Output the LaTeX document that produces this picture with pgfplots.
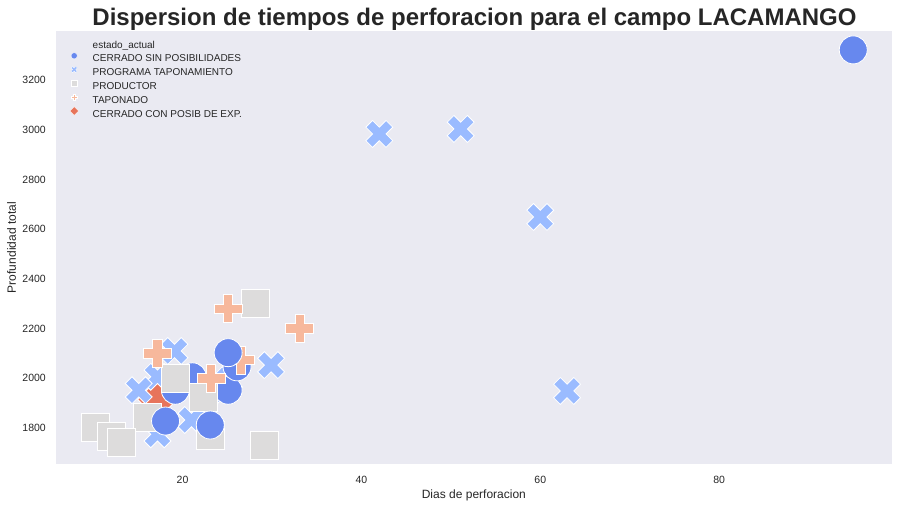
\documentclass[border=0pt]{standalone}
\usepackage{fontspec}
\setmainfont{Liberation Sans}
\usepackage{pgfplots}
\pgfplotsset{compat=1.18}
\definecolor{cA}{HTML}{6788EE}
\definecolor{cB}{HTML}{9ABBFF}
\definecolor{cC}{HTML}{DDDCDC}
\definecolor{cD}{HTML}{F7B89C}
\definecolor{cE}{HTML}{E7745B}
\definecolor{bgc}{HTML}{EAEAF2}
\definecolor{txt}{HTML}{262626}

\pgfdeclareplotmark{Pfill}{%
 \pgfpathmoveto{\pgfqpoint{0.3333\pgfplotmarksize}{\pgfplotmarksize}}%
 \pgfpathlineto{\pgfqpoint{0.3333\pgfplotmarksize}{0.3333\pgfplotmarksize}}%
 \pgfpathlineto{\pgfqpoint{\pgfplotmarksize}{0.3333\pgfplotmarksize}}%
 \pgfpathlineto{\pgfqpoint{\pgfplotmarksize}{-0.3333\pgfplotmarksize}}%
 \pgfpathlineto{\pgfqpoint{0.3333\pgfplotmarksize}{-0.3333\pgfplotmarksize}}%
 \pgfpathlineto{\pgfqpoint{0.3333\pgfplotmarksize}{-\pgfplotmarksize}}%
 \pgfpathlineto{\pgfqpoint{-0.3333\pgfplotmarksize}{-\pgfplotmarksize}}%
 \pgfpathlineto{\pgfqpoint{-0.3333\pgfplotmarksize}{-0.3333\pgfplotmarksize}}%
 \pgfpathlineto{\pgfqpoint{-\pgfplotmarksize}{-0.3333\pgfplotmarksize}}%
 \pgfpathlineto{\pgfqpoint{-\pgfplotmarksize}{0.3333\pgfplotmarksize}}%
 \pgfpathlineto{\pgfqpoint{-0.3333\pgfplotmarksize}{0.3333\pgfplotmarksize}}%
 \pgfpathlineto{\pgfqpoint{-0.3333\pgfplotmarksize}{\pgfplotmarksize}}%
 \pgfpathclose
 \pgfusepathqfillstroke}
\pgfdeclareplotmark{Xfill}{%
 \pgfpathmoveto{\pgfqpoint{-0.4714\pgfplotmarksize}{0.9428\pgfplotmarksize}}%
 \pgfpathlineto{\pgfqpoint{0pt}{0.4714\pgfplotmarksize}}%
 \pgfpathlineto{\pgfqpoint{0.4714\pgfplotmarksize}{0.9428\pgfplotmarksize}}%
 \pgfpathlineto{\pgfqpoint{0.9428\pgfplotmarksize}{0.4714\pgfplotmarksize}}%
 \pgfpathlineto{\pgfqpoint{0.4714\pgfplotmarksize}{0pt}}%
 \pgfpathlineto{\pgfqpoint{0.9428\pgfplotmarksize}{-0.4714\pgfplotmarksize}}%
 \pgfpathlineto{\pgfqpoint{0.4714\pgfplotmarksize}{-0.9428\pgfplotmarksize}}%
 \pgfpathlineto{\pgfqpoint{0pt}{-0.4714\pgfplotmarksize}}%
 \pgfpathlineto{\pgfqpoint{-0.4714\pgfplotmarksize}{-0.9428\pgfplotmarksize}}%
 \pgfpathlineto{\pgfqpoint{-0.9428\pgfplotmarksize}{-0.4714\pgfplotmarksize}}%
 \pgfpathlineto{\pgfqpoint{-0.4714\pgfplotmarksize}{0pt}}%
 \pgfpathlineto{\pgfqpoint{-0.9428\pgfplotmarksize}{0.4714\pgfplotmarksize}}%
 \pgfpathclose
 \pgfusepathqfillstroke}
\pgfdeclareplotmark{Dfill}{%
 \pgfpathmoveto{\pgfqpoint{0pt}{\pgfplotmarksize}}%
 \pgfpathlineto{\pgfqpoint{\pgfplotmarksize}{0pt}}%
 \pgfpathlineto{\pgfqpoint{0pt}{-\pgfplotmarksize}}%
 \pgfpathlineto{\pgfqpoint{-\pgfplotmarksize}{0pt}}%
 \pgfpathclose
 \pgfusepathqfillstroke}

\pgfplotsset{
 legmark/.style={only marks, legend image code/.code={\path (-5pt,0pt) (18.3pt,0pt); \draw[##1, overlay] plot coordinates {(0pt,3.6pt)};}},
 pts/.style={only marks, forget plot},
}

\pgfplotstableread{
x y
21.1 2006
19.2 1952
25.1 1952
26.1 2046
}\circA
\pgfplotstableread{
x y
25.1 2103
18.1 1828
23.1 1812
95.0 3321
}\circB
\pgfplotstableread{
x y
42.0 2983
51.1 3003
60.0 2649
63.0 1949
29.9 2053
19.1 2110
17.2 2006
15.1 1952
25.2 1992
21.0 1832
17.2 1775
22.8 1940
}\xs
\pgfplotstableread{
x y
28.2 2300
19.2 1999
16.1 1843
10.2 1803
12.1 1765
13.2 1742
29.2 1729
23.1 1772
22.3 1925
}\sqs
\pgfplotstableread{
x y
25.1 2280
33.1 2200
17.2 2100
23.2 1999
26.5 2073
}\pls
\pgfplotstableread{
x y
17.2 1915
}\dms

\begin{document}
\begin{tikzpicture}[x=1pt,y=1pt]
\useasboundingbox (0,0) rectangle (899,506);
\begin{axis}[
 at={(56pt,41.7pt)}, anchor=south west,
 width=835.7pt, height=433.3pt, scale only axis,
 xmin=5.85, xmax=99.3, ymin=1654, ymax=3397,
 axis background/.style={fill=bgc},
 axis line style={draw=none},
 major tick length=0pt,
 xtick={20,40,60,80}, ytick={1800,2000,...,3200},
 tick label style={font=\fontsize{10.5}{12}\selectfont, text=txt, inner sep=0pt},
 /pgf/number format/assume math mode=true,
 /pgf/number format/1000 sep={},
 yticklabel style={xshift=-10pt},
 xticklabel style={yshift=-11.5pt},
 xlabel={Dias de perforacion}, ylabel={Profundidad total},
 label style={font=\fontsize{12}{14}\selectfont, text=txt, inner sep=0pt},
 xlabel style={at={(axis description cs:0.5,-0.0800)}, anchor=base},
 ylabel style={at={(axis description cs:-0.0480,0.5)}, anchor=base},
 legend style={at={(axis description cs:0,1)}, anchor=north west, xshift=13pt, yshift=-10pt,
   draw=none, fill=none, inner sep=0pt, outer sep=0pt, row sep=4.6pt, column sep=0pt,
   font=\fontsize{10}{12}\selectfont, text=txt,
   nodes={inner sep=0pt, text height=7.2pt, text depth=2pt}},
 legend cell align=left,
]
\addlegendimage{empty legend}
\addlegendentry{estado\_actual}
\addlegendimage{legmark, mark=*, mark size=3.15pt, mark options={fill=cA, draw=white, line width=0.3pt}}
\addlegendentry{CERRADO SIN POSIBILIDADES}
\addlegendimage{legmark, mark=Xfill, mark size=3.3pt, mark options={fill=cB, draw=white, line width=0.3pt}}
\addlegendentry{PROGRAMA TAPONAMIENTO}
\addlegendimage{legmark, mark=square*, mark size=3pt, mark options={fill=cC, draw=white, line width=0.3pt}}
\addlegendentry{PRODUCTOR}
\addlegendimage{legmark, mark=Pfill, mark size=3.1pt, mark options={fill=cD, draw=white, line width=0.3pt}}
\addlegendentry{TAPONADO}
\addlegendimage{legmark, mark=Dfill, mark size=4.4pt, mark options={fill=cE, draw=white, line width=0.3pt}}
\addlegendentry{CERRADO CON POSIB DE EXP.}

\addplot[pts, mark=Dfill, mark size=19.8pt, mark options={fill=cE, draw=white, line width=0.8pt}] table {\dms};
\addplot[pts, mark=Xfill, mark size=14.3pt, mark options={fill=cB, draw=white, line width=0.8pt}] table {\xs};
\addplot[pts, mark=*, mark size=14pt, mark options={fill=cA, draw=white, line width=0.8pt}] table {\circA};
\addplot[pts, mark=square*, mark size=14pt, mark options={fill=cC, draw=white, line width=0.8pt}] table {\sqs};
\addplot[pts, mark=Pfill, mark size=14pt, mark options={fill=cD, draw=white, line width=0.8pt}] table {\pls};
\addplot[pts, mark=*, mark size=14pt, mark options={fill=cA, draw=white, line width=0.8pt}] table {\circB};
\end{axis}
\node[anchor=base, font=\bfseries\fontsize{24}{28}\selectfont, text=txt, inner sep=0pt] at (474.5,480) {Dispersion de tiempos de perforacion para el campo LACAMANGO};
\end{tikzpicture}
\end{document}
